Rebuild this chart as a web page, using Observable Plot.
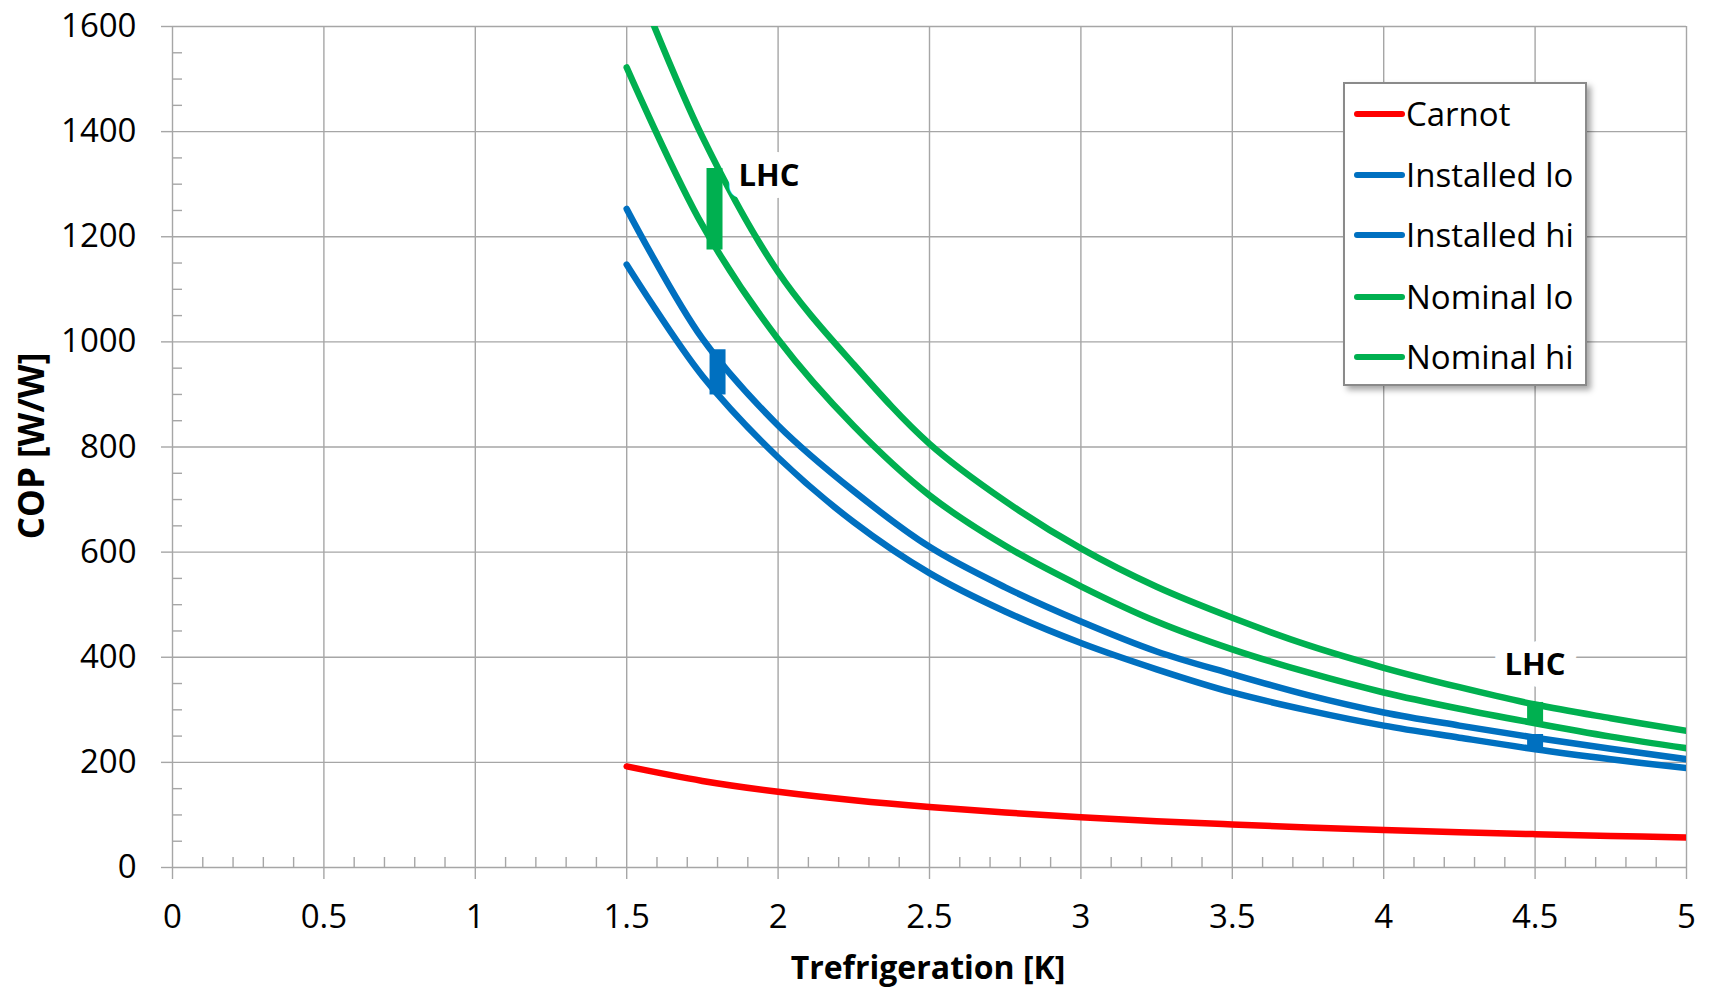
<!DOCTYPE html>
<html>
<head>
<meta charset="utf-8">
<script src="https://cdn.jsdelivr.net/npm/d3@7"></script>
<script src="https://cdn.jsdelivr.net/npm/@observablehq/plot@0.6"></script>
<style>
  html, body { margin: 0; padding: 0; background: #fff; }
  #wrap { position: relative; width: 1710px; height: 990px; font-family: "Open Sans", sans-serif; }
  #legend { position: absolute; left: 1343px; top: 82px; width: 240px; height: 300px;
            border: 2px solid #8a8a8a; background: #fff; box-shadow: 4px 4px 6px rgba(0,0,0,0.35); }
  #legend .item { position: absolute; left: 0; height: 40px; width: 240px; }
  #legend .sw { position: absolute; left: 9px; top: 17px; width: 51px; height: 6px; border-radius: 3px; }
  #legend .lab { position: absolute; left: 61px; top: 0; line-height: 40px; font-size: 33px; color: #000; white-space: nowrap; }
</style>
</head>
<body>
<div id="wrap"></div>
<script>
// ---- data ----
const temps       = [1.5, 1.75, 2, 2.25, 2.5, 2.75, 3, 3.25, 3.5, 3.75, 4, 4.25, 4.5, 4.75, 5];
const carnot      = [192.3, 164.7, 144, 127.9, 115, 104.5, 95.7, 88.2, 81.9, 76.3, 71.5, 67.2, 63.4, 60.1, 57];
const installedLo = [1147, 935, 780, 657, 560, 487, 427, 377, 333, 299, 270, 247, 225, 206, 189];
const installedHi = [1253, 1006, 841, 716, 610, 533, 468, 411, 368, 328, 295, 270, 247, 226, 206];
const nominalLo   = [1522, 1222, 1005, 840, 708, 612, 535, 468, 415, 371, 333, 302, 274.5, 249, 227];
const nominalHi   = [1730, 1390, 1133, 957, 806, 697, 607, 534, 475, 423, 380, 343, 310, 284, 260];

const seriesNames  = ["Carnot", "Installed lo", "Installed hi", "Nominal lo", "Nominal hi"];
const seriesColors = ["#FF0000", "#0070C0", "#0070C0", "#00B050", "#00B050"];
const seriesValues = [carnot, installedLo, installedHi, nominalLo, nominalHi];

// LHC operating ranges
const lhcT     = [1.79, 1.8, 4.5, 4.5];
const lhcLo    = [1175, 899, 276, 222];
const lhcHi    = [1330, 985, 314, 253];
const lhcColor = ["#00B050", "#0070C0", "#00B050", "#0070C0"];
const lhcLabelT = [1.97, 4.5];
const lhcLabelV = [1315, 385];
const lhcLabelText = ["LHC", "LHC"];

const xTicks = [0, 0.5, 1, 1.5, 2, 2.5, 3, 3.5, 4, 4.5, 5];
const yTicks = [0, 200, 400, 600, 800, 1000, 1200, 1400, 1600];
const xMinor = d3.range(0, 50).map(i => i / 10).filter(v => Math.round(v * 10) % 5 !== 0);
const yMinor = d3.range(0, 1600, 50).filter(v => v % 200 !== 0);

const xTitle = "Trefrigeration [K]";
const yTitle = "COP [W/W]";

// ---- tables ----
const rows = seriesNames.flatMap((name, i) =>
  temps.map((t, j) => ({name, color: seriesColors[i], t, v: seriesValues[i][j]})));
const lhcRows = lhcT.map((t, i) => ({t, lo: lhcLo[i], hi: lhcHi[i], color: lhcColor[i]}));
const lhcLabels = lhcLabelT.map((t, i) => ({t, v: lhcLabelV[i], text: lhcLabelText[i]}));

const gridColor = "#a6a6a6";

const chart = Plot.plot({
  width: 1710,
  height: 990,
  marginLeft: 172,
  marginRight: 24,
  marginTop: 26,
  marginBottom: 123,
  style: {fontFamily: "'Open Sans', sans-serif", fontSize: "33px", color: "#000", background: "#fff"},
  x: {domain: [0, 5]},
  y: {domain: [0, 1600]},
  color: {type: "identity"},
  marks: [
    Plot.gridX(xTicks, {stroke: gridColor, strokeOpacity: 1, strokeWidth: 1.4}),
    Plot.gridY(yTicks, {stroke: gridColor, strokeOpacity: 1, strokeWidth: 1.4}),
    Plot.axisX(xMinor, {tickSize: -10, tickFormat: () => "", stroke: gridColor, strokeWidth: 1.4, label: null}),
    Plot.axisY(yMinor, {tickSize: -10, tickFormat: () => "", stroke: gridColor, strokeWidth: 1.4, label: null}),
    Plot.axisX(xTicks, {tickSize: 12, tickPadding: 25, tickFormat: d => String(d), fontSize: 33, stroke: gridColor, strokeWidth: 1.4, label: null}),
    Plot.axisY(yTicks, {tickSize: 11, tickPadding: 25, tickFormat: d => String(d), fontSize: 33, stroke: gridColor, strokeWidth: 1.4, label: null}),
    Plot.line(rows, {x: "t", y: "v", z: "name", stroke: "color", strokeWidth: 6.5,
      curve: "catmull-rom", strokeLinecap: "round", strokeLinejoin: "round", clip: true}),
    Plot.ruleX(lhcRows, {x: "t", y1: "lo", y2: "hi", stroke: "color", strokeWidth: 16}),
    Plot.text(lhcLabels, {x: "t", y: "v", text: "text", fontWeight: "bold", fontSize: 31,
      fill: "#000", stroke: "#fff", strokeWidth: 24, strokeLinejoin: "round", paintOrder: "stroke"})
  ]
});

const wrap = document.getElementById("wrap");
wrap.appendChild(chart);

// axis titles
const svg = d3.select(chart);
svg.append("text")
  .attr("transform", "translate(30,446) rotate(-90)")
  .attr("text-anchor", "middle").attr("dominant-baseline", "central")
  .attr("font-weight", "bold").attr("font-size", 35).attr("fill", "#000")
  .attr("font-family", "'Open Sans', sans-serif")
  .text(yTitle);
svg.append("text")
  .attr("x", 928).attr("y", 966)
  .attr("text-anchor", "middle").attr("dominant-baseline", "central")
  .attr("font-weight", "bold").attr("font-size", 32).attr("fill", "#000")
  .attr("font-family", "'Open Sans', sans-serif")
  .text(xTitle);

// legend
const legend = d3.select(wrap).append("div").attr("id", "legend");
const legendTops = [10, 71, 131, 193, 253];
seriesNames.forEach((name, i) => {
  const it = legend.append("div").attr("class", "item").style("top", legendTops[i] + "px");
  it.append("div").attr("class", "sw").style("background", seriesColors[i]);
  it.append("div").attr("class", "lab").text(name);
});
</script>
</body>
</html>
